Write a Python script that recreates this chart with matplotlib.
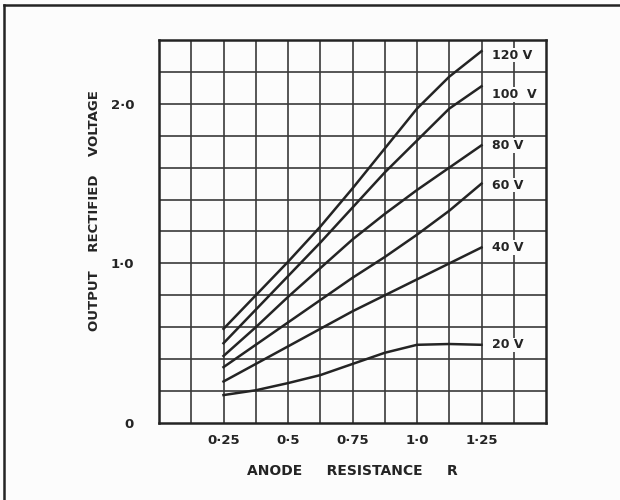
import matplotlib.pyplot as plt
from matplotlib.lines import Line2D

# anode resistance (x) and rectified output for each supply voltage
r_vals = [0.25, 0.375, 0.5, 0.625, 0.75, 0.875, 1.0, 1.125, 1.25]
v120 = [0.59, 0.80, 1.01, 1.23, 1.47, 1.72, 1.97, 2.17, 2.33]
v100 = [0.50, 0.71, 0.92, 1.13, 1.35, 1.57, 1.77, 1.97, 2.11]
v80 = [0.42, 0.60, 0.79, 0.97, 1.15, 1.31, 1.46, 1.60, 1.74]
v60 = [0.35, 0.49, 0.63, 0.77, 0.91, 1.04, 1.18, 1.33, 1.50]
v40 = [0.26, 0.37, 0.48, 0.59, 0.70, 0.80, 0.90, 1.00, 1.10]
v20 = [0.175, 0.205, 0.25, 0.30, 0.37, 0.44, 0.49, 0.495, 0.49]

curves = [v120, v100, v80, v60, v40, v20]
curve_labels = ['120 V', '100  V', '80 V', '60 V', '40 V', '20 V']
label_shift = [-0.025, -0.05, 0.0, -0.01, 0.0, 0.0]

x_ticks = [0.25, 0.5, 0.75, 1.0, 1.25]
x_ticklabels = ['0\u00b725', '0\u00b75', '0\u00b775', '1\u00b70', '1\u00b725']
y_ticks = [0, 1.0, 2.0]
y_ticklabels = ['0', '1\u00b70', '2\u00b70']

ink = '#242424'
font = {'family': ['DejaVu Sans'], 'weight': 'bold', 'color': ink}

fig = plt.figure(figsize=(6.2, 5.0), dpi=100)
fig.patch.set_facecolor('#fcfcfc')
ax = fig.add_axes([159 / 620, 1 - 423 / 500, 387 / 620, 383 / 500])
ax.set_facecolor('#fcfcfc')

ax.set_xlim(0, 1.5)
ax.set_ylim(0, 2.4)

# square grid: 0.125 across, 0.2 up
for i in range(1, 12):
    ax.axvline(i * 0.125, color='#3a3a3a', lw=1.2, zorder=1)
for j in range(1, 12):
    ax.axhline(j * 0.2, color='#3a3a3a', lw=1.2, zorder=1)

for spine in ax.spines.values():
    spine.set_color(ink)
    spine.set_linewidth(1.8)

for vals, lab, dy in zip(curves, curve_labels, label_shift):
    ax.plot(r_vals, vals, color=ink, lw=1.8, zorder=3)
    ax.text(1.29, vals[-1] + dy, lab, fontsize=9, va='center', ha='left', fontdict=font,
            bbox=dict(facecolor='#fcfcfc', edgecolor='none', pad=0.5), zorder=4)

ax.set_xticks(x_ticks)
ax.set_xticklabels(x_ticklabels, fontdict=font, fontsize=9.5)
ax.set_yticks(y_ticks)
ax.set_yticklabels(y_ticklabels, fontdict=font, fontsize=9.5)
ax.tick_params(length=0, pad=8)
ax.tick_params(axis='y', pad=18)

ax.set_xlabel('ANODE     RESISTANCE     R', fontdict=font, fontsize=10, labelpad=12)
ax.set_ylabel('OUTPUT    RECTIFIED    VOLTAGE', fontdict=font, fontsize=9.5)
ax.yaxis.set_label_coords(-0.15, 0.555)

# page frame, left and top edge
fig.add_artist(Line2D([4 / 620, 4 / 620], [0.0, 1 - 5 / 500], color=ink, lw=1.8))
fig.add_artist(Line2D([4 / 620, 1.0], [1 - 5 / 500, 1 - 5 / 500], color=ink, lw=1.8))

fig.savefig('out.png', dpi=100, facecolor=fig.get_facecolor())
plt.close(fig)
